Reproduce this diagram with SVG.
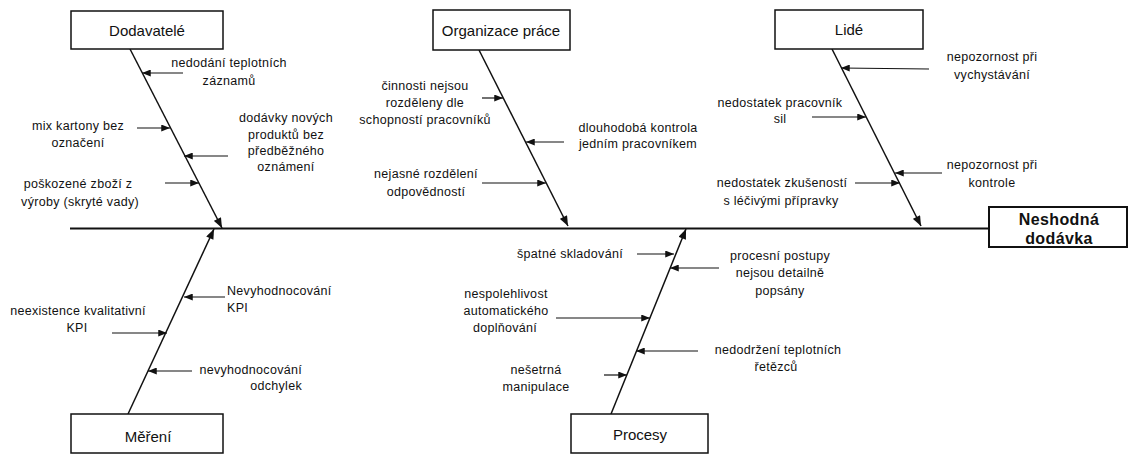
<svg xmlns="http://www.w3.org/2000/svg" width="1130" height="456" viewBox="0 0 1130 456">
  <style>
    text { font-family: "Liberation Sans", Arial, sans-serif; fill: #111; }
    .lbl { font-size: 12.5px; letter-spacing: 0.3px; text-anchor: middle; }
    .lbl-l { font-size: 12.5px; letter-spacing: 0.3px; text-anchor: start; }
    .lbl-r { font-size: 12.5px; letter-spacing: 0.3px; text-anchor: end; }
    .cat { font-size: 15px; text-anchor: middle; }
    .head { font-size: 16px; font-weight: bold; text-anchor: middle; letter-spacing: 0.4px; }
    .box { fill: #fff; stroke: #111; stroke-width: 1.5; }
    .box-main { fill: #fff; stroke: #111; stroke-width: 2; }
    .spine { stroke: #111; stroke-width: 1.8; fill: none; }
    .bone { stroke: #111; stroke-width: 1.5; fill: none; marker-end: url(#bigArrow); }
    .cause { stroke: #111; stroke-width: 1.2; fill: none; marker-end: url(#smallArrow); }
  </style>
  <defs>
    <marker id="bigArrow" markerUnits="userSpaceOnUse" viewBox="0 0 10 8" refX="10" refY="4" markerWidth="11" markerHeight="8" orient="auto">
      <path d="M0,0 L10,4 L0,8 Z" fill="#111"/>
    </marker>
    <marker id="smallArrow" markerUnits="userSpaceOnUse" viewBox="0 0 10 8" refX="10" refY="4" markerWidth="9" markerHeight="7" orient="auto">
      <path d="M0,0 L10,4 L0,8 Z" fill="#111"/>
    </marker>
  </defs>

  <rect width="1130" height="456" fill="#fff"/>

  <!-- connectors: spine, category bones and cause arrows -->
  <g id="connectors">
    <line class="spine" x1="70" y1="228.5" x2="989" y2="228.5"/>

    <!-- category bones -->
    <line class="bone" x1="130" y1="49" x2="222" y2="228"/>
    <line class="bone" x1="479" y1="50" x2="568" y2="226"/>
    <line class="bone" x1="832" y1="49" x2="921" y2="226"/>
    <line class="bone" x1="128" y1="414" x2="214" y2="229"/>
    <line class="bone" x1="611" y1="414" x2="686" y2="229"/>

    <!-- Dodavatelé causes -->
    <line class="cause" x1="183" y1="73" x2="142" y2="73"/>
    <line class="cause" x1="137" y1="128" x2="170" y2="128"/>
    <line class="cause" x1="228" y1="156" x2="184" y2="156"/>
    <line class="cause" x1="165" y1="183" x2="199" y2="183"/>

    <!-- Organizace práce causes -->
    <line class="cause" x1="482" y1="98" x2="503" y2="98"/>
    <line class="cause" x1="564" y1="142" x2="526" y2="142"/>
    <line class="cause" x1="482" y1="183" x2="546" y2="183"/>

    <!-- Lidé causes -->
    <line class="cause" x1="929" y1="69" x2="841" y2="68"/>
    <line class="cause" x1="812" y1="117" x2="866" y2="117"/>
    <line class="cause" x1="942" y1="173" x2="895" y2="173"/>
    <line class="cause" x1="855" y1="183" x2="900" y2="183"/>

    <!-- Měření causes -->
    <line class="cause" x1="225" y1="297" x2="184" y2="297"/>
    <line class="cause" x1="112" y1="333" x2="167" y2="333"/>
    <line class="cause" x1="192" y1="371" x2="148" y2="371"/>

    <!-- Procesy causes -->
    <line class="cause" x1="637" y1="254" x2="674" y2="254"/>
    <line class="cause" x1="719" y1="268" x2="670" y2="268"/>
    <line class="cause" x1="556" y1="318" x2="650" y2="318"/>
    <line class="cause" x1="698" y1="351" x2="636" y2="351"/>
    <line class="cause" x1="604" y1="375" x2="627" y2="375"/>
  </g>

  <!-- effect -->
  <g id="effect">
    <rect class="box-main" x="989" y="207" width="138" height="40"/>
    <text class="head" x="1059" y="225">Neshodná</text>
    <text class="head" x="1059" y="244">dodávka</text>
  </g>

  <!-- category: Dodavatelé -->
  <g id="cat-dodavatele">
    <rect class="box" x="71" y="11" width="152" height="38"/>
    <text class="cat" x="147" y="36">Dodavatelé</text>
    <text class="lbl" x="229" y="67">nedodání teplotních</text>
    <text class="lbl" x="229" y="85">záznamů</text>
    <text class="lbl" x="78" y="130">mix kartony bez</text>
    <text class="lbl" x="78" y="147">označení</text>
    <text class="lbl" x="286" y="122">dodávky nových</text>
    <text class="lbl" x="286" y="139">produktů bez</text>
    <text class="lbl" x="286" y="155">předběžného</text>
    <text class="lbl" x="286" y="171">oznámení</text>
    <text class="lbl" x="78" y="188">poškozené zboží z</text>
    <text class="lbl" x="80" y="206">výroby (skryté vady)</text>
  </g>

  <!-- category: Organizace práce -->
  <g id="cat-organizace">
    <rect class="box" x="433" y="10" width="137" height="40"/>
    <text class="cat" x="501" y="36">Organizace práce</text>
    <text class="lbl" x="425" y="90">činnosti nejsou</text>
    <text class="lbl" x="425" y="107">rozděleny dle</text>
    <text class="lbl" x="425" y="124">schopností pracovníků</text>
    <text class="lbl" x="638" y="132">dlouhodobá kontrola</text>
    <text class="lbl" x="638" y="148">jedním pracovníkem</text>
    <text class="lbl" x="426" y="178">nejasné rozdělení</text>
    <text class="lbl" x="426" y="196">odpovědností</text>
  </g>

  <!-- category: Lidé -->
  <g id="cat-lide">
    <rect class="box" x="775" y="10" width="148" height="39"/>
    <text class="cat" x="849" y="35">Lidé</text>
    <text class="lbl" x="992" y="61">nepozornost při</text>
    <text class="lbl" x="992" y="79">vychystávání</text>
    <text class="lbl" x="780" y="107">nedostatek pracovník</text>
    <text class="lbl" x="780" y="123">sil</text>
    <text class="lbl" x="992" y="169">nepozornost při</text>
    <text class="lbl" x="992" y="187">kontrole</text>
    <text class="lbl" x="782" y="187">nedostatek zkušeností</text>
    <text class="lbl" x="781" y="205">s léčivými přípravky</text>
  </g>

  <!-- category: Měření -->
  <g id="cat-mereni">
    <rect class="box" x="71" y="414" width="152" height="39"/>
    <text class="cat" x="148" y="442">Měření</text>
    <text class="lbl-l" x="227" y="295">Nevyhodnocování</text>
    <text class="lbl-l" x="227" y="312">KPI</text>
    <text class="lbl" x="78" y="315">neexistence kvalitativní</text>
    <text class="lbl" x="77" y="332">KPI</text>
    <text class="lbl-r" x="302" y="374">nevyhodnocování</text>
    <text class="lbl-r" x="302" y="390">odchylek</text>
  </g>

  <!-- category: Procesy -->
  <g id="cat-procesy">
    <rect class="box" x="571" y="414" width="137" height="39"/>
    <text class="cat" x="640" y="440">Procesy</text>
    <text class="lbl" x="570" y="258">špatné skladování</text>
    <text class="lbl" x="780" y="260">procesní postupy</text>
    <text class="lbl" x="780" y="277">nejsou detailně</text>
    <text class="lbl" x="780" y="295">popsány</text>
    <text class="lbl" x="506" y="298">nespolehlivost</text>
    <text class="lbl" x="506" y="315">automatického</text>
    <text class="lbl" x="505" y="332">doplňování</text>
    <text class="lbl" x="778" y="354">nedodržení teplotních</text>
    <text class="lbl" x="776" y="371">řetězců</text>
    <text class="lbl" x="536" y="374">nešetrná</text>
    <text class="lbl" x="536" y="391">manipulace</text>
  </g>
</svg>
